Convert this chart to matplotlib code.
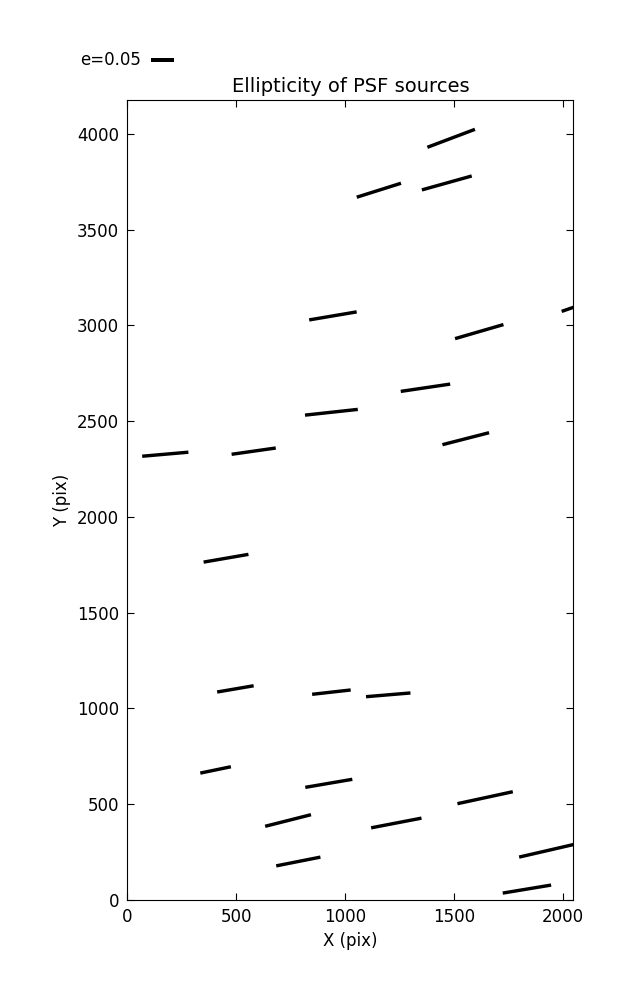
import numpy as np
import matplotlib
matplotlib.use("Agg")
import matplotlib.pyplot as plt

# Source positions (pix)
x_pos = [1487, 1155, 1467, 944, 1616, 2103, 1369, 937, 174, 580, 1554, 453,
         496, 937, 1198, 405, 925, 738, 1235, 1643, 785, 1929, 1835]
y_pos = [3976, 3705, 3743, 3049, 2967, 3115, 2674, 2546, 2327, 2343, 2408, 1784,
         1102, 1085, 1071, 679, 609, 415, 402, 534, 201, 258, 57]
# Ellipticity magnitude
ellip = [0.114, 0.104, 0.116, 0.108, 0.113, 0.112, 0.112, 0.119, 0.104, 0.100,
         0.108, 0.102, 0.083, 0.087, 0.100, 0.070, 0.107, 0.106, 0.115, 0.127,
         0.101, 0.130, 0.110]
# Position angle (degrees)
theta = [20.7, 17.5, 15.6, 9.6, 16.2, 19.0, 8.4, 6.2, 5.0, 8.1, 14.4, 9.8,
         9.7, 6.4, 4.8, 11.7, 9.7, 14.2, 10.9, 12.2, 11.2, 13.0, 9.4]
key_e = 0.05

x = np.array(x_pos)
y = np.array(y_pos)
e = np.array(ellip)
t = np.radians(theta)
u = e * np.cos(t)
v = e * np.sin(t)

plt.rcParams['font.family'] = ['DejaVu Sans']
fig = plt.figure(figsize=(6.37, 10.0), dpi=100)
ax = fig.add_axes([0.2, 0.1, 0.7, 0.8])

Q = ax.quiver(x, y, u, v, angles='uv', scale_units='inches', scale=0.2242,
              pivot='middle', headwidth=0, headlength=0, headaxislength=0,
              units='inches', width=0.034, color='black')
ax.quiverkey(Q, 0.2375, 0.94, key_e, 'e=0.05', labelpos='W', coordinates='figure',
             fontproperties={'size': 12})

ax.set_xlim(0, 2048)
ax.set_ylim(0, 4176)
ax.set_xticks([0, 500, 1000, 1500, 2000])
ax.set_yticks([0, 500, 1000, 1500, 2000, 2500, 3000, 3500, 4000])
ax.tick_params(direction='in', top=True, right=True, length=5, labelsize=12, pad=6)
ax.set_xlabel('X (pix)', fontsize=12)
ax.set_ylabel('Y (pix)', fontsize=12)
ax.set_title('Ellipticity of PSF sources', fontsize=14)

fig.savefig('out.png', dpi=100)
